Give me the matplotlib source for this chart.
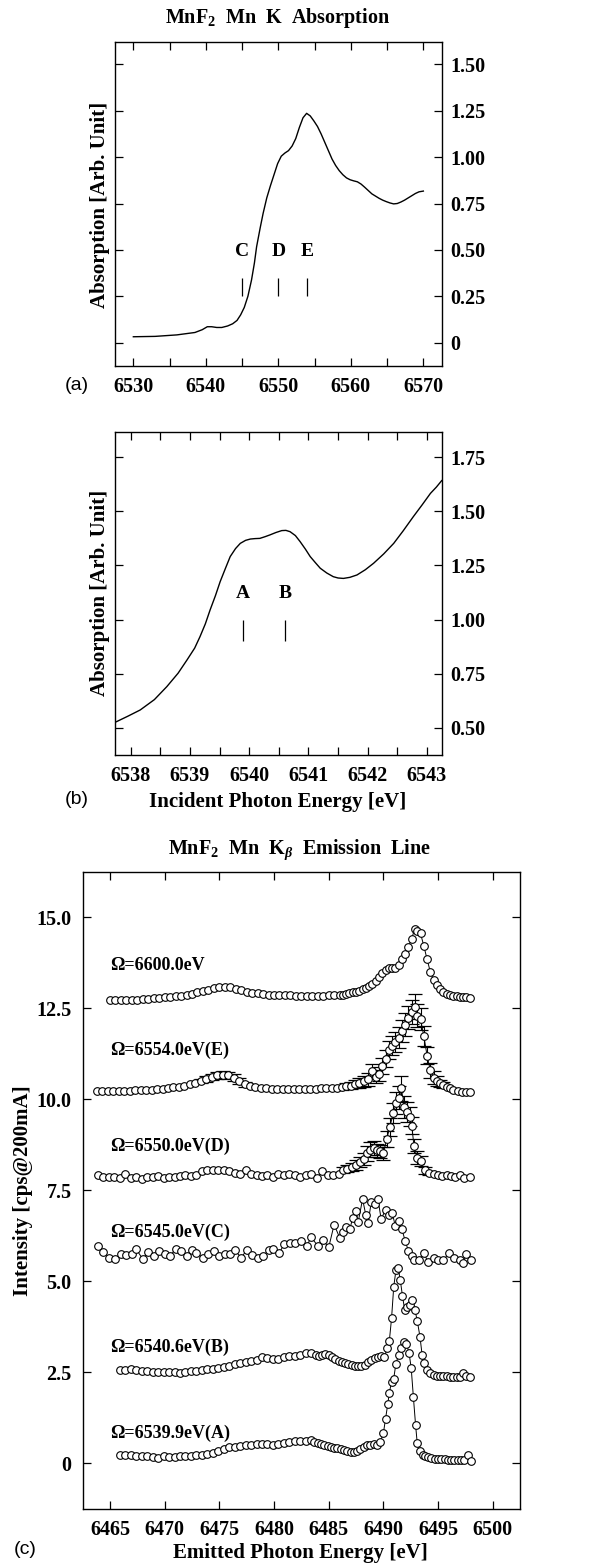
import matplotlib
matplotlib.use("Agg")
import matplotlib.pyplot as plt
import numpy as np
from matplotlib.ticker import MultipleLocator

plt.rcParams["font.family"] = ["Liberation Serif", "DejaVu Serif"]
plt.rcParams["font.weight"] = "bold"
plt.rcParams["mathtext.fontset"] = "custom"
plt.rcParams["mathtext.rm"] = "Liberation Serif:bold"
plt.rcParams["mathtext.it"] = "Liberation Serif:italic:bold"
plt.rcParams["mathtext.bf"] = "Liberation Serif:bold"

# ---- panel (a): Mn K absorption, wide range ----
abs_a_x = [6530.0, 6533.0, 6536.0, 6538.5, 6539.5, 6540.2, 6540.8, 6541.5, 6542.2, 6543.0,
           6543.7, 6544.3, 6544.8, 6545.3, 6545.8, 6546.3, 6546.7, 6547.0, 6547.5, 6547.9,
           6548.4, 6548.9, 6549.4, 6549.9, 6550.4, 6550.9, 6551.4, 6551.9, 6552.4, 6552.9,
           6553.4, 6553.9, 6554.4, 6554.9, 6555.4, 6555.9, 6556.4, 6556.9, 6557.4, 6557.9,
           6558.4, 6558.9, 6559.4, 6559.9, 6560.4, 6560.9, 6561.4, 6561.9, 6562.4, 6562.9,
           6563.4, 6563.9, 6564.4, 6564.9, 6565.4, 6565.9, 6566.4, 6566.9, 6567.4, 6567.9,
           6568.4, 6568.9, 6569.4, 6570.0]
abs_a_y = [0.032, 0.034, 0.042, 0.055, 0.070, 0.086, 0.086, 0.082, 0.082, 0.090,
           0.102, 0.120, 0.150, 0.190, 0.250, 0.338, 0.430, 0.517, 0.620, 0.697,
           0.780, 0.845, 0.905, 0.965, 1.005, 1.022, 1.035, 1.060, 1.100, 1.160,
           1.212, 1.236, 1.222, 1.195, 1.165, 1.125, 1.080, 1.035, 0.990, 0.955,
           0.927, 0.905, 0.888, 0.878, 0.872, 0.867, 0.855, 0.838, 0.820, 0.802,
           0.790, 0.778, 0.768, 0.760, 0.753, 0.748, 0.750, 0.758, 0.768, 0.780,
           0.792, 0.804, 0.813, 0.817]
marks_a = [6545.0, 6550.0, 6554.0]
marks_a_names = ["C", "D", "E"]
yticks_a = [0, 0.25, 0.50, 0.75, 1.00, 1.25, 1.50]
ylabels_a = ["0", "0.25", "0.50", "0.75", "1.00", "1.25", "1.50"]
xticks_a = [6530, 6540, 6550, 6560, 6570]

# ---- panel (b): pre-edge zoom ----
abs_b_x = [6537.76, 6537.95, 6538.16, 6538.40, 6538.61, 6538.80, 6538.95, 6539.08, 6539.17, 6539.26,
           6539.34, 6539.43, 6539.51, 6539.60, 6539.68, 6539.77, 6539.85, 6539.94, 6540.02, 6540.10,
           6540.18, 6540.27, 6540.35, 6540.45, 6540.55, 6540.62, 6540.69, 6540.78, 6540.86, 6540.95,
           6541.03, 6541.12, 6541.20, 6541.31, 6541.42, 6541.50, 6541.59, 6541.70, 6541.82, 6541.96,
           6542.10, 6542.27, 6542.44, 6542.60, 6542.77, 6542.92, 6543.06, 6543.16, 6543.25]
abs_b_y = [0.528, 0.553, 0.582, 0.630, 0.690, 0.752, 0.813, 0.868, 0.921, 0.980,
           1.044, 1.110, 1.175, 1.237, 1.291, 1.328, 1.352, 1.366, 1.372, 1.374,
           1.375, 1.383, 1.391, 1.402, 1.411, 1.412, 1.406, 1.388, 1.360, 1.325,
           1.291, 1.262, 1.237, 1.215, 1.198, 1.192, 1.190, 1.195, 1.206, 1.230,
           1.260, 1.303, 1.352, 1.410, 1.475, 1.530, 1.583, 1.612, 1.642]
marks_b = [6539.9, 6540.6]
marks_b_names = ["A", "B"]
yticks_b = [0.50, 0.75, 1.00, 1.25, 1.50, 1.75]
ylabels_b = ["0.50", "0.75", "1.00", "1.25", "1.50", "1.75"]
xticks_b = [6538, 6539, 6540, 6541, 6542, 6543]

# ---- panel (c): Kbeta emission spectra ----
s6600_x = [6465.0, 6465.5, 6466.0, 6466.5, 6467.0, 6467.5, 6468.0, 6468.5, 6469.0, 6469.5,
           6470.0, 6470.5, 6471.0, 6471.5, 6472.0, 6472.5, 6473.0, 6473.5, 6474.0, 6474.5,
           6475.0, 6475.5, 6476.0, 6476.5, 6477.0, 6477.5, 6478.0, 6478.5, 6479.0, 6479.5,
           6480.0, 6480.5, 6481.0, 6481.5, 6482.0, 6482.5, 6483.0, 6483.5, 6484.0, 6484.5,
           6485.0, 6485.5, 6486.0, 6486.3, 6486.6, 6486.9, 6487.2, 6487.5, 6487.8, 6488.1,
           6488.4, 6488.7, 6489.0, 6489.3, 6489.6, 6489.9, 6490.2, 6490.5, 6490.8, 6491.1,
           6491.4, 6491.7, 6492.0, 6492.3, 6492.6, 6492.85, 6493.1, 6493.4, 6493.7, 6494.0,
           6494.3, 6494.6, 6494.9, 6495.2, 6495.5, 6495.8, 6496.1, 6496.4, 6496.7, 6497.0,
           6497.3, 6497.6, 6497.9]
s6600_y = [12.72, 12.72, 12.73, 12.73, 12.74, 12.74, 12.75, 12.76, 12.78, 12.79,
           12.80, 12.81, 12.83, 12.85, 12.87, 12.90, 12.94, 12.97, 13.01, 13.05,
           13.08, 13.10, 13.08, 13.04, 13.00, 12.96, 12.93, 12.91, 12.89, 12.88,
           12.87, 12.86, 12.86, 12.86, 12.85, 12.85, 12.85, 12.84, 12.85, 12.85,
           12.86, 12.86, 12.87, 12.88, 12.90, 12.92, 12.94, 12.96, 12.99, 13.03,
           13.07, 13.11, 13.16, 13.24, 13.36, 13.48, 13.56, 13.60, 13.61, 13.62,
           13.68, 13.85, 14.00, 14.20, 14.42, 14.67, 14.64, 14.56, 14.22, 13.85,
           13.50, 13.28, 13.13, 13.04, 12.96, 12.90, 12.86, 12.85, 12.84, 12.82,
           12.81, 12.80, 12.78]

sE_x = [6463.8, 6464.3, 6464.8, 6465.3, 6465.8, 6466.3, 6466.8, 6467.3, 6467.8, 6468.3,
        6468.8, 6469.3, 6469.8, 6470.3, 6470.8, 6471.3, 6471.8, 6472.3, 6472.8, 6473.3,
        6473.8, 6474.3, 6474.8, 6475.3, 6475.8, 6476.3, 6476.8, 6477.3, 6477.8, 6478.3,
        6478.8, 6479.3, 6479.8, 6480.3, 6480.8, 6481.3, 6481.8, 6482.3, 6482.8, 6483.3,
        6483.8, 6484.3, 6484.8, 6485.3, 6485.8, 6486.2, 6486.6, 6487.0, 6487.4, 6487.8,
        6488.2, 6488.6, 6489.0, 6489.3, 6489.6, 6489.9, 6490.2, 6490.5, 6490.8, 6491.1,
        6491.4, 6491.7, 6492.0, 6492.3, 6492.6, 6492.85, 6493.1, 6493.4, 6493.7, 6494.0,
        6494.3, 6494.6, 6494.9, 6495.2, 6495.5, 6495.8, 6496.1, 6496.4, 6496.8, 6497.2,
        6497.6, 6497.9]
sE_y = [10.22, 10.22, 10.23, 10.23, 10.23, 10.24, 10.24, 10.25, 10.25, 10.26,
        10.27, 10.28, 10.29, 10.31, 10.33, 10.35, 10.38, 10.41, 10.45, 10.50,
        10.56, 10.62, 10.66, 10.68, 10.66, 10.60, 10.50, 10.42, 10.37, 10.33,
        10.31, 10.30, 10.29, 10.29, 10.28, 10.28, 10.28, 10.28, 10.29, 10.29,
        10.29, 10.30, 10.30, 10.31, 10.32, 10.33, 10.36, 10.38, 10.42, 10.46,
        10.50, 10.55, 10.78, 10.62, 10.70, 10.92, 11.12, 11.35, 11.48, 11.58,
        11.70, 11.88, 12.05, 12.25, 12.40, 12.55, 12.30, 12.20, 11.75, 11.20,
        10.80, 10.60, 10.50, 10.44, 10.40, 10.35, 10.30, 10.26, 10.23, 10.21,
        10.21, 10.21]
sE_err = [0, 0, 0, 0, 0, 0, 0, 0, 0, 0,
          0, 0, 0, 0, 0, 0, 0, 0, 0, 0.06,
          0.08, 0.09, 0.10, 0.10, 0.10, 0.09, 0.08, 0.07, 0, 0,
          0, 0, 0, 0, 0, 0, 0, 0, 0, 0,
          0, 0, 0, 0, 0, 0.06, 0.08, 0.10, 0.12, 0.14,
          0.15, 0.17, 0.20, 0.18, 0.20, 0.22, 0.24, 0.25, 0.27, 0.28,
          0.29, 0.30, 0.31, 0.32, 0.33, 0.35, 0.32, 0.30, 0.28, 0.24,
          0.20, 0.17, 0.14, 0.10, 0.08, 0, 0, 0, 0, 0,
          0, 0]

sD_x = [6463.9, 6464.4, 6464.9, 6465.4, 6465.9, 6466.4, 6466.9, 6467.4, 6467.9, 6468.4,
        6468.9, 6469.4, 6469.9, 6470.4, 6470.9, 6471.4, 6471.9, 6472.4, 6472.9, 6473.4,
        6473.9, 6474.4, 6474.9, 6475.4, 6475.9, 6476.4, 6476.9, 6477.4, 6477.9, 6478.4,
        6478.9, 6479.4, 6479.9, 6480.4, 6480.9, 6481.4, 6481.9, 6482.4, 6482.9, 6483.4,
        6483.9, 6484.4, 6484.9, 6485.4, 6485.9, 6486.3, 6486.7, 6487.1, 6487.5, 6487.9,
        6488.2, 6488.5, 6488.8, 6489.1, 6489.4, 6489.7, 6490.0, 6490.3, 6490.6, 6490.9,
        6491.2, 6491.45, 6491.65, 6491.9, 6492.15, 6492.4, 6492.6, 6492.8, 6493.1, 6493.4,
        6493.8, 6494.2, 6494.6, 6495.0, 6495.4, 6495.8, 6496.2, 6496.6, 6497.0, 6497.4,
        6497.9]
sD_y = [7.91, 7.88, 7.86, 7.87, 7.85, 7.95, 7.84, 7.86, 7.82, 7.88,
        7.86, 7.90, 7.85, 7.87, 7.86, 7.89, 7.92, 7.90, 7.93, 8.02,
        8.05, 8.06, 8.07, 8.05, 8.04, 7.98, 7.96, 8.05, 7.95, 7.93,
        7.90, 7.92, 7.88, 7.96, 7.92, 7.94, 7.93, 7.86, 7.93, 7.94,
        7.83, 8.02, 7.92, 7.93, 7.96, 8.05, 8.10, 8.14, 8.20, 8.28,
        8.36, 8.52, 8.62, 8.66, 8.60, 8.58, 8.52, 8.90, 9.25, 9.62,
        9.90, 10.05, 10.30, 9.78, 9.65, 9.52, 9.28, 8.72, 8.40, 8.30,
        8.05, 7.98, 7.94, 7.92, 7.90, 7.91, 7.89, 7.87, 7.92, 7.85,
        7.87]
sD_err = [0, 0, 0, 0, 0, 0, 0, 0, 0, 0,
          0, 0, 0, 0, 0, 0, 0, 0, 0, 0,
          0, 0, 0, 0, 0, 0, 0, 0, 0, 0,
          0, 0, 0, 0, 0, 0, 0, 0, 0, 0,
          0, 0, 0, 0, 0, 0.08, 0.10, 0.12, 0.14, 0.15,
          0.17, 0.20, 0.20, 0.20, 0.18, 0.18, 0.18, 0.22, 0.25, 0.28,
          0.30, 0.32, 0.34, 0.30, 0.28, 0.26, 0.24, 0.20, 0.17, 0.14,
          0.10, 0.06, 0, 0, 0, 0, 0, 0, 0, 0,
          0]

sC_x = [6463.9, 6464.4, 6464.9, 6465.5, 6466.0, 6466.5, 6467.0, 6467.4, 6468.0, 6468.5,
        6469.0, 6469.5, 6470.0, 6470.5, 6471.0, 6471.5, 6472.0, 6472.5, 6472.9, 6473.5,
        6474.0, 6474.5, 6475.0, 6475.5, 6476.0, 6476.4, 6477.0, 6477.5, 6478.0, 6478.5,
        6479.0, 6479.5, 6479.9, 6480.5, 6480.9, 6481.5, 6481.9, 6482.5, 6483.0, 6483.4,
        6484.0, 6484.5, 6485.0, 6485.5, 6486.0, 6486.3, 6486.6, 6486.95, 6487.2, 6487.5,
        6487.7, 6488.1, 6488.4, 6488.6, 6488.9, 6489.2, 6489.5, 6489.8, 6490.2, 6490.5,
        6490.8, 6491.1, 6491.4, 6491.7, 6492.0, 6492.3, 6492.6, 6492.8, 6493.3, 6493.7,
        6494.1, 6494.6, 6495.0, 6495.5, 6496.0, 6496.5, 6497.0, 6497.3, 6497.6, 6498.0]
sC_y = [5.97, 5.81, 5.65, 5.61, 5.75, 5.72, 5.75, 5.88, 5.61, 5.81,
        5.69, 5.84, 5.75, 5.69, 5.90, 5.83, 5.69, 5.87, 5.78, 5.65,
        5.75, 5.83, 5.69, 5.75, 5.75, 5.86, 5.65, 5.86, 5.72, 5.65,
        5.69, 5.86, 5.90, 5.78, 6.02, 6.06, 6.06, 6.10, 5.97, 6.22,
        5.97, 6.13, 5.93, 6.56, 6.20, 6.36, 6.50, 6.45, 6.75, 6.94,
        6.63, 7.26, 6.82, 6.61, 7.18, 7.12, 7.27, 6.71, 6.97, 6.83,
        6.89, 6.52, 6.66, 6.43, 6.11, 5.83, 5.70, 5.58, 5.58, 5.78,
        5.52, 5.63, 5.58, 5.58, 5.78, 5.65, 5.58, 5.51, 5.75, 5.60]

sB_x = [6465.9, 6466.4, 6466.9, 6467.4, 6467.9, 6468.4, 6468.9, 6469.4, 6469.9, 6470.4,
        6470.9, 6471.4, 6471.9, 6472.4, 6472.9, 6473.4, 6473.9, 6474.4, 6474.9, 6475.4,
        6475.9, 6476.4, 6476.9, 6477.4, 6477.9, 6478.4, 6478.9, 6479.4, 6479.9, 6480.4,
        6480.9, 6481.4, 6481.9, 6482.4, 6482.9, 6483.4, 6483.8, 6484.1, 6484.4, 6484.7,
        6485.0, 6485.3, 6485.6, 6485.9, 6486.2, 6486.5, 6486.8, 6487.1, 6487.4, 6487.7,
        6488.0, 6488.3, 6488.6, 6488.9, 6489.2, 6489.5, 6489.8, 6490.1, 6490.35, 6490.55,
        6490.75, 6490.95, 6491.15, 6491.35, 6491.55, 6491.75, 6491.95, 6492.15, 6492.4, 6492.65,
        6492.9, 6493.1, 6493.35, 6493.55, 6493.75, 6494.0, 6494.3, 6494.6, 6494.9, 6495.2,
        6495.5, 6495.8, 6496.1, 6496.4, 6496.7, 6497.0, 6497.3, 6497.6, 6497.9]
sB_y = [2.56, 2.57, 2.58, 2.56, 2.55, 2.54, 2.52, 2.50, 2.52, 2.50,
        2.52, 2.49, 2.52, 2.53, 2.54, 2.56, 2.58, 2.60, 2.63, 2.65,
        2.68, 2.72, 2.76, 2.78, 2.80, 2.84, 2.92, 2.88, 2.87, 2.86,
        2.91, 2.95, 2.95, 2.97, 3.02, 3.04, 2.98, 2.96, 2.97, 3.00,
        2.98, 2.92, 2.86, 2.82, 2.78, 2.76, 2.73, 2.70, 2.68, 2.66,
        2.67, 2.71, 2.77, 2.83, 2.88, 2.92, 2.95, 2.92, 3.16, 3.37,
        3.98, 4.85, 5.30, 5.38, 5.03, 4.60, 4.22, 4.30, 4.36, 4.48,
        4.20, 3.92, 3.48, 2.97, 2.75, 2.56, 2.47, 2.42, 2.41, 2.40,
        2.39, 2.39, 2.38, 2.38, 2.38, 2.38, 2.49, 2.41, 2.36]

sA_x = [6465.9, 6466.4, 6466.9, 6467.4, 6467.9, 6468.4, 6468.9, 6469.4, 6469.9, 6470.4,
        6470.9, 6471.4, 6471.9, 6472.4, 6472.9, 6473.4, 6473.9, 6474.4, 6474.9, 6475.4,
        6475.9, 6476.4, 6476.9, 6477.4, 6477.9, 6478.4, 6478.9, 6479.4, 6479.9, 6480.4,
        6480.9, 6481.4, 6481.9, 6482.4, 6482.9, 6483.4, 6483.7, 6484.0, 6484.3, 6484.6,
        6484.9, 6485.2, 6485.5, 6485.8, 6486.1, 6486.4, 6486.7, 6487.0, 6487.3, 6487.6,
        6487.9, 6488.2, 6488.5, 6488.8, 6489.1, 6489.4, 6489.7, 6490.0, 6490.2, 6490.4,
        6490.55, 6490.75, 6490.95, 6491.15, 6491.4, 6491.65, 6491.9, 6492.1, 6492.35, 6492.55,
        6492.75, 6492.95, 6493.1, 6493.35, 6493.6, 6493.85, 6494.1, 6494.4, 6494.7, 6495.0,
        6495.3, 6495.6, 6495.9, 6496.2, 6496.5, 6496.8, 6497.1, 6497.4, 6497.7, 6498.0]
sA_y = [0.23, 0.22, 0.22, 0.21, 0.21, 0.20, 0.17, 0.15, 0.19, 0.16,
        0.18, 0.19, 0.20, 0.21, 0.22, 0.24, 0.26, 0.29, 0.34, 0.40,
        0.44, 0.46, 0.47, 0.49, 0.51, 0.52, 0.53, 0.52, 0.51, 0.52,
        0.55, 0.58, 0.60, 0.62, 0.61, 0.63, 0.58, 0.56, 0.53, 0.50,
        0.48, 0.45, 0.43, 0.41, 0.38, 0.36, 0.34, 0.32, 0.31, 0.33,
        0.38, 0.45, 0.50, 0.51, 0.52, 0.50, 0.58, 0.82, 1.22, 1.62,
        1.94, 2.24, 2.33, 2.74, 2.98, 3.17, 3.33, 3.29, 3.04, 2.61,
        1.81, 1.05, 0.55, 0.35, 0.24, 0.19, 0.16, 0.14, 0.13, 0.12,
        0.12, 0.11, 0.10, 0.10, 0.09, 0.09, 0.09, 0.10, 0.22, 0.07]

series_labels = ["Ω=6600.0eV", "Ω=6554.0eV(E)", "Ω=6550.0eV(D)",
                 "Ω=6545.0eV(C)", "Ω=6540.6eV(B)", "Ω=6539.9eV(A)"]
series_label_y = [13.69, 11.36, 8.70, 6.36, 3.20, 0.82]
yticks_c = [0, 2.5, 5.0, 7.5, 10.0, 12.5, 15.0]
ylabels_c = ["0", "2.5", "5.0", "7.5", "10.0", "12.5", "15.0"]
xticks_c = [6465, 6470, 6475, 6480, 6485, 6490, 6495, 6500]

FS = 14.5
W, H = 595, 1566


def style(ax):
    ax.tick_params(which="both", direction="in", top=True, right=True,
                   length=6, width=0.9, labelsize=FS)
    ax.tick_params(axis="x", pad=8)
    ax.tick_params(axis="y", pad=6)
    for sp in ax.spines.values():
        sp.set_linewidth(1.0)


def ftext(px, py, s, **kw):
    fig.text(px / W, 1 - py / H, s, ha="center", va="center", **kw)


fig = plt.figure(figsize=(5.95, 15.66), dpi=100)

# panel (a)
ax_a = fig.add_axes([115 / W, 1 - 365.7 / H, 326.7 / W, 324 / H])
ax_a.plot(abs_a_x, abs_a_y, color="black", lw=1.0)
ax_a.vlines(marks_a, 0.25, 0.35, color="black", lw=0.9)
for xm, name in zip(marks_a, marks_a_names):
    ax_a.text(xm, 0.49, name, ha="center", va="center", fontsize=14)
ax_a.set_xlim(6527.47, 6572.53)
ax_a.set_ylim(-0.124, 1.622)
ax_a.set_xticks(xticks_a)
ax_a.xaxis.set_minor_locator(MultipleLocator(5))
ax_a.set_yticks(yticks_a, labels=ylabels_a)
style(ax_a)
ax_a.tick_params(axis="y", labelleft=False, labelright=True)

# panel (b)
ax_b = fig.add_axes([115 / W, 1 - 755 / H, 326.7 / W, 323.3 / H])
ax_b.plot(abs_b_x, abs_b_y, color="black", lw=1.0)
ax_b.vlines(marks_b, 0.90, 1.00, color="black", lw=0.9)
for xm, name in zip(marks_b, marks_b_names):
    ax_b.text(xm, 1.12, name, ha="center", va="center", fontsize=14)
ax_b.set_xlim(6537.735, 6543.25)
ax_b.set_ylim(0.374, 1.868)
ax_b.set_xticks(xticks_b)
ax_b.xaxis.set_minor_locator(MultipleLocator(0.5))
ax_b.set_yticks(yticks_b, labels=ylabels_b)
style(ax_b)
ax_b.tick_params(axis="y", labelleft=False, labelright=True)

# panel (c)
ax_c = fig.add_axes([82.7 / W, 1 - 1509.3 / H, 437.3 / W, 637 / H])
spectra = [(s6600_x, s6600_y, None), (sE_x, sE_y, sE_err), (sD_x, sD_y, sD_err),
           (sC_x, sC_y, None), (sB_x, sB_y, None), (sA_x, sA_y, None)]
for xs, ys, err in spectra:
    xs = np.array(xs)
    ys = np.array(ys)
    if err is not None:
        err = np.array(err)
        m = err > 0
        ax_c.errorbar(xs[m], ys[m], yerr=err[m], fmt="none", ecolor="black",
                      elinewidth=0.8, capsize=5, capthick=0.9, zorder=2)
    ax_c.plot(xs, ys, "-", color="black", lw=0.7, marker="o", ms=5.5,
              mfc="white", mec="black", mew=0.8, zorder=3)
for lab, ly in zip(series_labels, series_label_y):
    ax_c.text(6465.0, ly, lab, ha="left", va="center", fontsize=13)
ax_c.set_xlim(6462.5, 6502.5)
ax_c.set_ylim(-1.264, 16.24)
ax_c.set_xticks(xticks_c)
ax_c.set_yticks(yticks_c, labels=ylabels_c)
style(ax_c)
ax_c.tick_params(axis="y", pad=8)

# titles, axis labels and panel tags
ftext(277.5, 18.3, "MnF$_2$  Mn  K  Absorption", fontsize=14.5)
ftext(100, 205, "Absorption [Arb. Unit]", rotation=90, fontsize=15)
ftext(100, 593, "Absorption [Arb. Unit]", rotation=90, fontsize=15)
ftext(278, 801.7, "Incident Photon Energy [eV]", fontsize=15)
ftext(300, 850, "MnF$_2$  Mn  K$_\\beta$  Emission  Line", fontsize=14.5)
ftext(23.3, 1190.8, "Intensity [cps@200mA]", rotation=90, fontsize=15)
ftext(300.8, 1553, "Emitted Photon Energy [eV]", fontsize=15)
for tag, tx, ty in [("(a)", 76.7, 385), ("(b)", 76.7, 800), ("(c)", 25, 1550)]:
    ftext(tx, ty, tag, fontsize=14, family="Liberation Sans", weight="normal")

fig.savefig("out.png", dpi=100)
